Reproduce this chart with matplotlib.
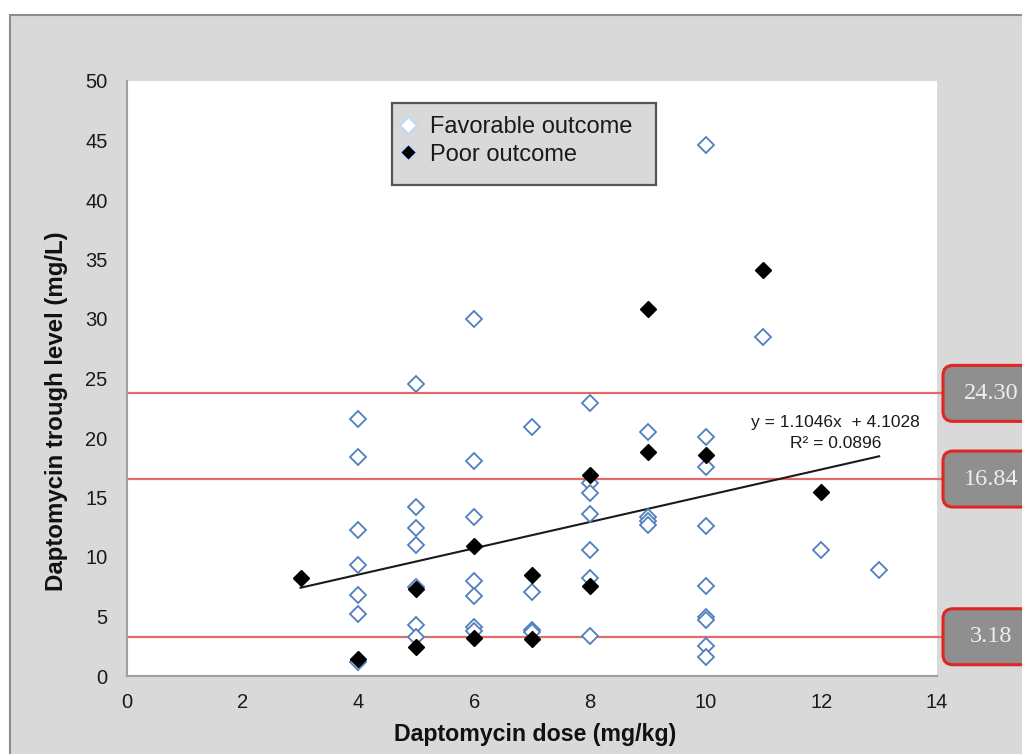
import numpy as np
import matplotlib
matplotlib.use("Agg")
import matplotlib.pyplot as plt
from matplotlib.patches import Rectangle, FancyBboxPatch
from matplotlib.lines import Line2D
from matplotlib.transforms import IdentityTransform

plt.rcParams['font.family'] = ['Liberation Sans', 'DejaVu Sans']

# ---- data ----
fav_x = [4, 4, 4, 4, 4, 4, 4,
         5, 5, 5, 5, 5, 5, 5,
         6, 6, 6, 6, 6, 6, 6,
         7, 7, 7, 7,
         8, 8, 8, 8, 8, 8, 8,
         9, 9, 9, 9,
         10, 10, 10, 10, 10, 10, 10, 10, 10,
         11, 12, 13]
fav_y = [21.6, 18.4, 12.3, 9.3, 6.8, 5.2, 1.2,
         24.5, 14.2, 12.4, 11.0, 7.5, 4.3, 3.3,
         30.0, 18.1, 13.4, 8.0, 6.7, 4.1, 3.8,
         20.9, 7.1, 3.9, 3.7,
         22.9, 16.2, 15.4, 13.6, 10.6, 8.2, 3.4,
         20.5, 13.4, 13.0, 12.7,
         44.6, 20.1, 17.6, 12.6, 7.6, 5.0, 4.7, 2.5, 1.6,
         28.5, 10.6, 8.9]

poor_x = [3, 4, 5, 5, 6, 6, 7, 7, 8, 8, 9, 9, 10, 11, 12]
poor_y = [8.2, 1.4, 7.3, 2.4, 10.9, 3.2, 8.5, 3.1, 16.9, 7.6, 30.8, 18.8, 18.6, 34.1, 15.5]

slope, intercept, r2 = 1.1046, 4.1028, 0.0896
trend_x = [3, 13]

ref_levels = [23.75, 16.55, 3.3]          # drawn line positions
ref_labels = ["24.30", "16.84", "3.18"]    # box labels

x_ticks = [0, 2, 4, 6, 8, 10, 12, 14]
y_ticks = [0, 5, 10, 15, 20, 25, 30, 35, 40, 45, 50]

# ---- figure ----
W, H = 1022, 754
fig = plt.figure(figsize=(W / 100, H / 100), dpi=100)
fig.patch.set_facecolor('white')

# outer grey panel
fig.patches.append(Rectangle((10 / W, -0.01), 1.0, (H - 15) / H + 0.01,
                             transform=fig.transFigure, facecolor='#d9d9d9',
                             edgecolor='#8c8c8c', linewidth=1.5, zorder=-10))

ax_l, ax_r, ax_t, ax_b = 127, 937, 81, 676
ax = fig.add_axes([ax_l / W, (H - ax_b) / H, (ax_r - ax_l) / W, (ax_b - ax_t) / H])
ax.set_zorder(1)
ax.set_facecolor('white')
ax.set_xlim(0, 14)
ax.set_ylim(0, 50)
ax.set_xticks(x_ticks)
ax.set_yticks(y_ticks)
ax.tick_params(length=0, labelsize=14.5, colors='#1a1a1a')
ax.tick_params(axis='y', pad=14)
ax.tick_params(axis='x', pad=12.5)
for s in ['top', 'right']:
    ax.spines[s].set_visible(False)
for s in ['left', 'bottom']:
    ax.spines[s].set_color('#a0a0a0')
    ax.spines[s].set_linewidth(1.5)

ax.set_xlabel("Daptomycin dose (mg/kg)", fontsize=16.7, fontweight='bold', color='#111111')
ax.xaxis.set_label_coords((535 - ax_l) / (ax_r - ax_l), -(734 - ax_b) / (ax_b - ax_t))
ax.xaxis.label.set_va('center')
ax.set_ylabel("Daptomycin trough level (mg/L)", fontsize=17.3, fontweight='bold', color='#111111')
ax.yaxis.set_label_coords(-(ax_l - 57) / (ax_r - ax_l), (ax_b - 411) / (ax_b - ax_t))
ax.yaxis.label.set_va('center')

# reference lines extending to boxes
for lv in ref_levels:
    ax.axhline(lv, xmin=0, xmax=(943 - ax_l) / (ax_r - ax_l), color='#e36a6a',
               linewidth=1.6, clip_on=False, zorder=2)

# trend line
tx = np.array(trend_x, dtype=float)
ax.plot(tx, slope * tx + intercept, color='#1a1a1a', linewidth=1.5, zorder=3)
ax.text(12.25, 21.3, f"y = {slope}x  + {intercept}", ha='center', va='center',
        fontsize=12.5, color='#1a1a1a')
ax.text(12.25, 19.5, f"R² = {r2}", ha='center', va='center',
        fontsize=12.5, color='#1a1a1a')

# scatter points
ax.plot(fav_x, fav_y, linestyle='none', marker='D', markersize=8.4,
        markerfacecolor='white', markeredgecolor='#4f7fbf', markeredgewidth=1.3,
        zorder=4, clip_on=False)
ax.plot(poor_x, poor_y, linestyle='none', marker='D', markersize=8.4,
        markerfacecolor='black', markeredgecolor='black', markeredgewidth=1.0,
        zorder=5, clip_on=False)

# legend box
lx0, lx1, ly0, ly1 = 392, 656, 103, 185
ax.add_patch(Rectangle(((lx0 - ax_l) / (ax_r - ax_l), (ax_b - ly1) / (ax_b - ax_t)),
                       (lx1 - lx0) / (ax_r - ax_l), (ly1 - ly0) / (ax_b - ax_t),
                       transform=ax.transAxes, facecolor='#d9d9d9', edgecolor='#555555',
                       linewidth=1.6, zorder=6, clip_on=False))
handles = [Line2D([], [], linestyle='none', marker='D', markersize=9,
                  markerfacecolor='white', markeredgecolor='#c6d9f0', markeredgewidth=2),
           Line2D([], [], linestyle='none', marker='D', markersize=9,
                  markerfacecolor='black', markeredgecolor='#c6d9f0', markeredgewidth=2)]
leg = ax.legend(handles, ["Favorable outcome", "Poor outcome"], frameon=False,
                loc='upper left',
                bbox_to_anchor=((396 - ax_l) / (ax_r - ax_l), (ax_b - 114) / (ax_b - ax_t)),
                fontsize=17, handlelength=0.8, handletextpad=0.55, labelspacing=0.22,
                borderpad=0.1, borderaxespad=0.0)
for t in leg.get_texts():
    t.set_color('#1a1a1a')
leg.set_zorder(7)

# value boxes on the right
fig.canvas.draw()
for lv, lab in zip(ref_levels, ref_labels):
    _, yd = ax.transData.transform((0, lv))
    bh = 56
    box = FancyBboxPatch((943, yd - bh / 2), 120, bh,
                         boxstyle="round,pad=0,rounding_size=10",
                         transform=IdentityTransform(), facecolor='#8f8f8f',
                         edgecolor='#e02525', linewidth=2.2, zorder=10)
    fig.patches.append(box)
    fig.text(991 / W, yd / H, lab, ha='center', va='center', fontsize=17.5,
             family='Liberation Serif', color='#eeeeee', zorder=11)

fig.savefig("out.png", dpi=100)
